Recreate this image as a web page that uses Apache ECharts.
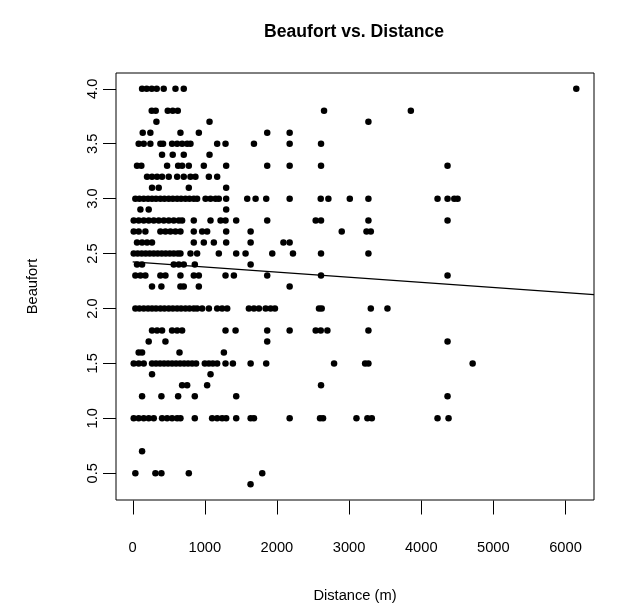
<!DOCTYPE html>
<html>
<head>
<meta charset="utf-8">
<script src="https://cdn.jsdelivr.net/npm/echarts@6/dist/echarts.min.js"></script>
<style>
  html, body { margin: 0; padding: 0; background: #fff; }
  #chart { width: 627px; height: 610px; }
</style>
</head>
<body>
<div id="chart"></div>
<script>
// Beaufort sea state recorded at each distance (m); one array of distances per Beaufort level.
const beaufortLevels = [4.0, 3.8, 3.7, 3.6, 3.5, 3.4, 3.3, 3.2, 3.1, 3.0, 2.9, 2.8, 2.7, 2.6, 2.5, 2.4, 2.3, 2.2, 2.0, 1.8, 1.7, 1.6, 1.5, 1.4, 1.3, 1.2, 1.0, 0.7, 0.5, 0.4];
const distancesByLevel = [
  [130, 194, 264, 333, 430, 593, 708, 6150],
  [264, 319, 486, 555, 625, 2653, 3856],
  [329, 1065, 3268],
  [139, 245, 662, 917, 1865, 2176],
  [83, 153, 245, 384, 421, 546, 616, 685, 755, 801, 1171, 1287, 1681, 2176, 2611],
  [407, 555, 708, 1065],
  [60, 120, 477, 630, 685, 778, 986, 1296, 1865, 2176, 2611, 4365],
  [199, 268, 338, 407, 500, 616, 708, 801, 870, 1056, 1171],
  [268, 361, 778, 1296],
  [37, 93, 153, 213, 268, 323, 384, 440, 500, 556, 616, 671, 731, 787, 847, 893, 1010, 1079, 1149, 1194, 1296, 1588, 1704, 1851, 2176, 2607, 2713, 3010, 3268, 4226, 4365, 4458, 4504],
  [107, 222, 1296],
  [14, 83, 153, 222, 292, 361, 431, 500, 569, 639, 685, 847, 1079, 1218, 1287, 1435, 1865, 2537, 2611, 3268, 4365],
  [14, 83, 176, 384, 454, 523, 593, 662, 847, 963, 1032, 1296, 1635, 2898, 3241, 3301],
  [60, 130, 199, 268, 847, 986, 1125, 1296, 1635, 2090, 2176],
  [14, 69, 125, 180, 236, 292, 347, 403, 458, 514, 569, 625, 662, 801, 893, 1194, 1435, 1565, 1935, 2222, 2611, 3268],
  [60, 130, 569, 639, 708, 861, 1635],
  [37, 107, 176, 384, 454, 662, 847, 917, 1287, 1403, 1865, 2611, 4365],
  [268, 398, 662, 708, 917, 2176],
  [37, 93, 153, 213, 268, 323, 384, 440, 500, 556, 616, 671, 731, 787, 847, 893, 963, 1056, 1171, 1240, 1310, 1611, 1681, 1750, 1843, 1912, 1972, 2583, 2620, 3301, 3532],
  [268, 338, 407, 546, 616, 685, 1287, 1426, 1865, 2176, 2537, 2607, 2699, 3268],
  [222, 454, 1865, 4365],
  [83, 130, 649, 1264],
  [14, 83, 153, 268, 323, 379, 435, 490, 546, 601, 657, 713, 768, 824, 879, 1000, 1056, 1111, 1171, 1287, 1389, 1635, 1851, 2792, 3222, 3268, 4713],
  [268, 1079],
  [685, 755, 1032, 2611],
  [130, 398, 630, 861, 1435, 4365],
  [14, 83, 153, 222, 292, 407, 477, 546, 616, 662, 861, 1101, 1171, 1240, 1296, 1435, 1635, 1681, 2176, 2597, 2639, 3102, 3254, 3315, 4226, 4379],
  [130],
  [37, 315, 398, 778, 1796],
  [1634]
];

// Least-squares fit of Beaufort on distance
const fitIntercept = 2.424;
const fitSlope = -0.0000467;

const xTicks = [0, 1000, 2000, 3000, 4000, 5000, 6000];
const yTicks = [0.5, 1.0, 1.5, 2.0, 2.5, 3.0, 3.5, 4.0];

const points = [];
beaufortLevels.forEach(function (level, i) {
  distancesByLevel[i].forEach(function (d) { points.push([d, level]); });
});
const xs = points.map(function (p) { return p[0]; });
const ys = points.map(function (p) { return p[1]; });
const xLo = Math.min.apply(null, xs), xHi = Math.max.apply(null, xs);
const yLo = Math.min.apply(null, ys), yHi = Math.max.apply(null, ys);
// R-style 4% padding around the data range
const xPad = (xHi - xLo) * 0.04, yPad = (yHi - yLo) * 0.04;
const xMin = xLo - xPad, xMax = xHi + xPad;
const yMin = yLo - yPad, yMax = yHi + yPad;
// fitted line from zero distance to the right edge of the plot
const fitLine = [[0, fitIntercept], [xMax, fitIntercept + fitSlope * xMax]];

// outward tick marks on the bottom edge of the plot box
const xTickLen = 14, yTickLen = 13;
const bottomTicks = {
  type: 'custom',
  data: xTicks.map(function (v) { return [v, yLo]; }),
  clip: false, silent: true, z: 5,
  renderItem: function (params, api) {
    const cs = params.coordSys;
    const x = Math.round(api.coord([api.value(0), api.value(1)])[0]) + 0.5;
    const y = Math.round(cs.y + cs.height) + 0.5;
    return { type: 'line', shape: { x1: x, y1: y, x2: x, y2: y + xTickLen },
      style: { stroke: '#000', lineWidth: 1 } };
  }
};

const font = '"Liberation Sans", Arial, Helvetica, sans-serif';
const chart = echarts.init(document.getElementById('chart'), null, { renderer: 'canvas' });
chart.setOption({
  animation: false,
  backgroundColor: '#ffffff',
  graphic: [{
    type: 'text', x: 354, y: 32, z: 10,
    style: {
      text: 'Beaufort vs. Distance', textAlign: 'center', textVerticalAlign: 'middle',
      fontFamily: font, fontSize: 17.6, fontWeight: 'bold', fill: '#000'
    }
  }],
  grid: {
    left: 116, right: 33, top: 73, bottom: 110,
    show: true, borderColor: '#000', borderWidth: 1, backgroundColor: 'transparent'
  },
  xAxis: [{
    type: 'value',
    min: xMin, max: xMax,
    name: 'Distance (m)', nameLocation: 'middle', nameGap: 88,
    nameTextStyle: { fontFamily: font, fontSize: 14.7, color: '#000' },
    axisLine: { show: false },
    splitLine: { show: false },
    axisTick: { show: false },
    axisLabel: { customValues: xTicks, margin: 40, fontFamily: font, fontSize: 14.7, color: '#000',
      formatter: function (v) { return String(v); } }
  }, {
    // helper axis without a zero, so the y axis stays on the left edge of the box
    type: 'value', min: 1, max: 2, show: false
  }],
  yAxis: {
    type: 'value',
    min: yMin, max: yMax,
    name: 'Beaufort', nameLocation: 'middle', nameGap: 76, nameRotate: 90,
    nameTextStyle: { fontFamily: font, fontSize: 14.7, color: '#000' },
    axisLine: { show: false, onZeroAxisIndex: 1 },
    splitLine: { show: false },
    axisTick: { show: true, inside: false, length: yTickLen, customValues: yTicks, lineStyle: { color: '#000', width: 1 } },
    axisLabel: { customValues: yTicks, margin: 16, rotate: 90, fontFamily: font, fontSize: 14.7, color: '#000',
      formatter: function (v) { return v.toFixed(1); } }
  },
  series: [
    {
      type: 'scatter',
      data: points,
      symbol: 'circle', symbolSize: 6.5,
      itemStyle: { color: '#000', opacity: 1 },
      z: 3
    },
    {
      type: 'line',
      data: fitLine,
      symbol: 'none',
      lineStyle: { color: '#000', width: 1.3 },
      z: 4
    },
    bottomTicks
  ]
});
</script>
</body>
</html>
